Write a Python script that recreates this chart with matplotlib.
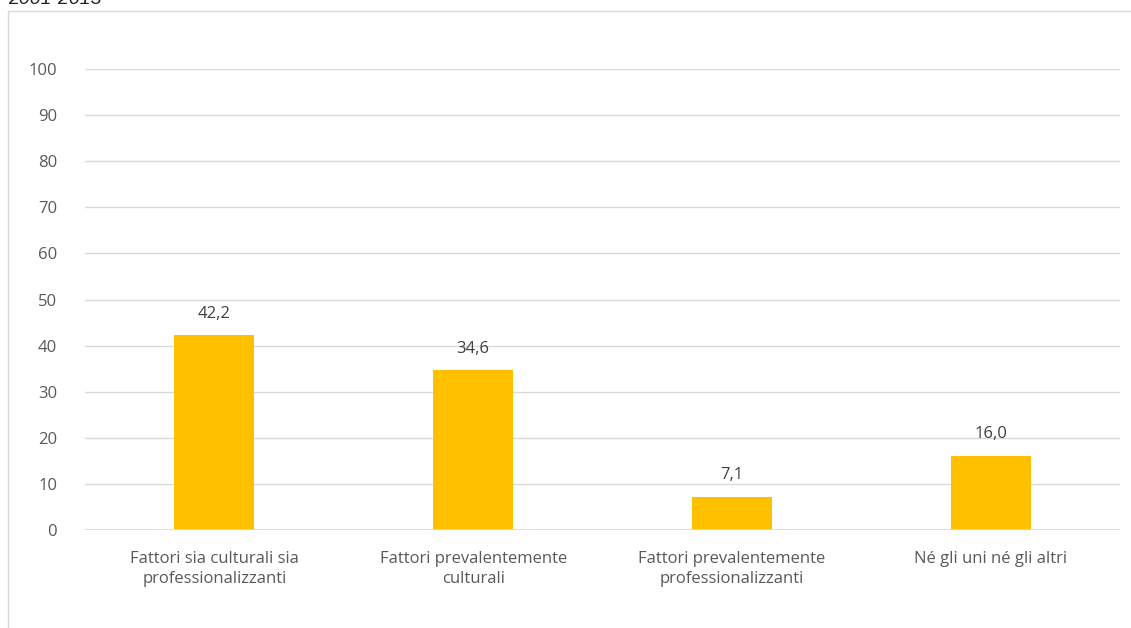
import matplotlib
matplotlib.use("Agg")
import matplotlib.pyplot as plt
from matplotlib.patches import Rectangle

categories = ["Fattori sia culturali sia\nprofessionalizzanti",
              "Fattori prevalentemente\nculturali",
              "Fattori prevalentemente\nprofessionalizzanti",
              "Né gli uni né gli altri"]
values = [42.2, 34.6, 7.1, 16.0]
labels = ["42,2", "34,6", "7,1", "16,0"]
yticks = [0, 10, 20, 30, 40, 50, 60, 70, 80, 90, 100]

plt.rcParams['font.family'] = ['Open Sans', 'DejaVu Sans']
W, H = 1131, 628
fig = plt.figure(figsize=(W/100, H/100), dpi=100)
ax = fig.add_axes([85/W, 1-530/H, (1120-85)/W, (530-69)/H])

x = range(len(categories))
ax.bar(x, values, width=0.31, color="#FFC000", zorder=3)
for xi, v, l in zip(x, values, labels):
    ax.text(xi, v + 3, l, ha='center', va='bottom', fontsize=12, color="#404040")

ax.set_xlim(-0.5, 3.5)
ax.set_ylim(0, 100)
ax.set_yticks(yticks)
ax.set_yticklabels([str(t) for t in yticks], fontsize=12, color="#595959")
ax.set_xticks(list(x))
ax.set_xticklabels(categories, fontsize=12, color="#595959", linespacing=1.35)
ax.tick_params(axis='both', length=0)
ax.tick_params(axis='y', pad=20)
ax.tick_params(axis='x', pad=15)
ax.grid(axis='y', color="#D9D9D9", linewidth=1, zorder=0)
for s in ax.spines.values():
    s.set_visible(False)
ax.axhline(0, color="#D9D9D9", linewidth=1.2, zorder=4)

fig.patches.append(Rectangle((8/W, -0.1), 1.2, 1-11/H+0.1, transform=fig.transFigure,
                             fill=False, edgecolor="#D9D9D9", linewidth=1))
fig.text(8/W, 1-4/H, "2001-2013", fontsize=14, style='italic', color="#222222",
         ha='left', va='baseline', family=['Liberation Sans', 'DejaVu Sans'])

fig.savefig("out.png", dpi=100)
